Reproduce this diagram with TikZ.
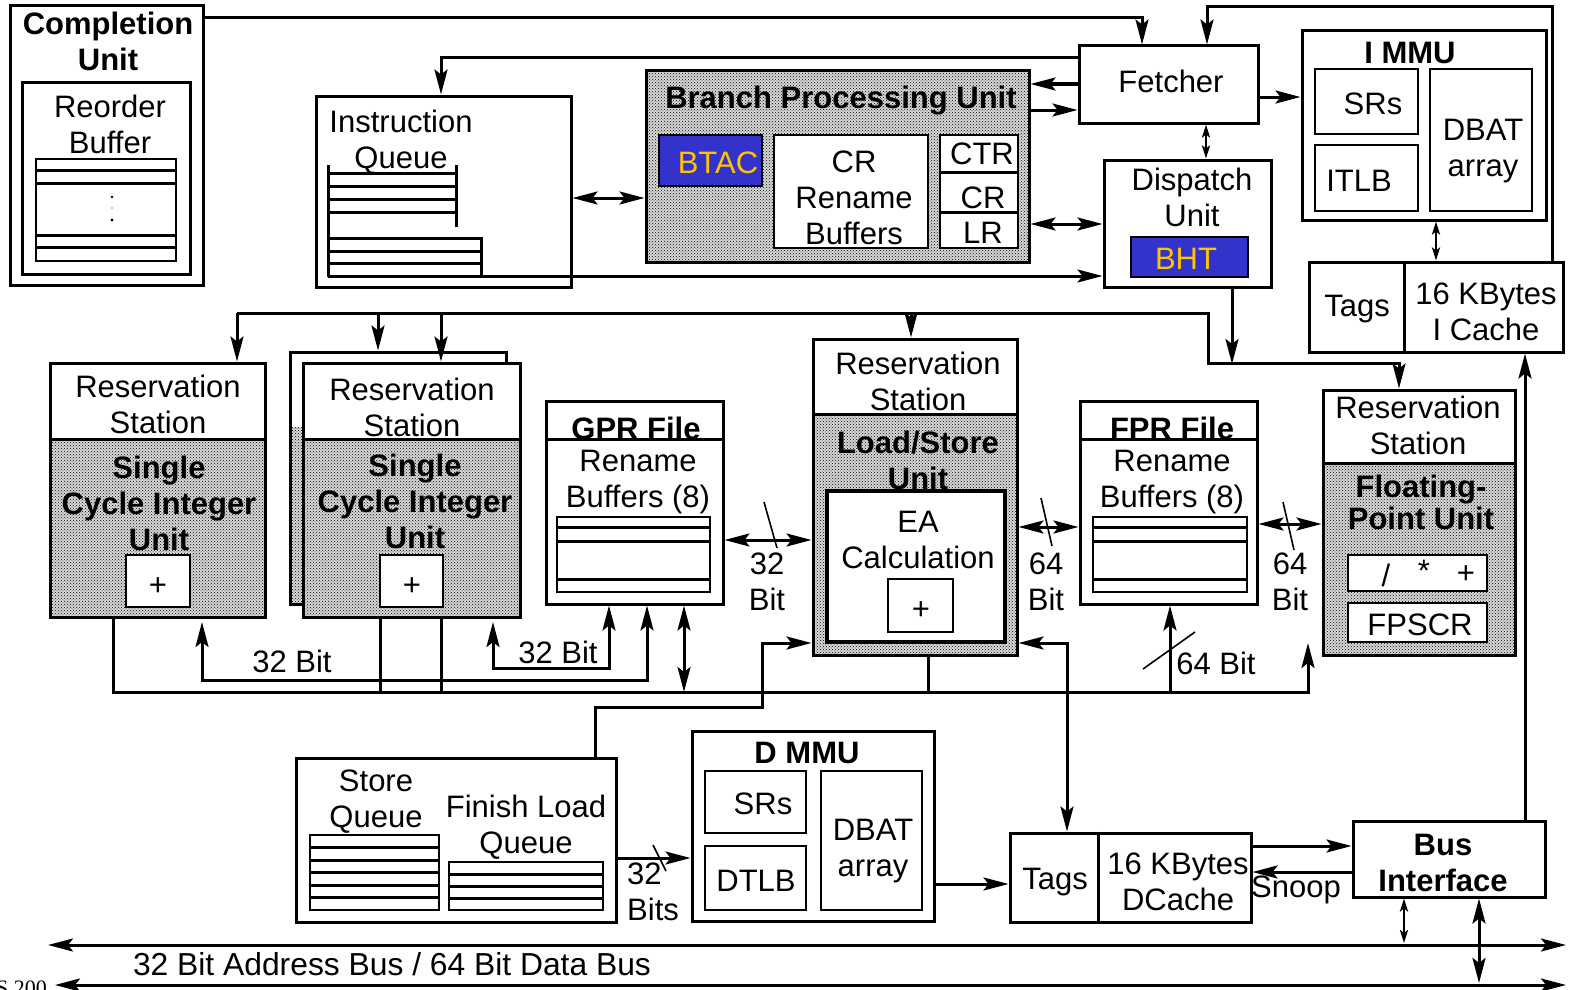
\documentclass[tikz,border=0pt]{standalone}
\usepackage{fontspec}
\setmainfont{Liberation Sans}
\newfontfamily\serx{Liberation Serif}
\usetikzlibrary{arrows.meta,patterns}
\newcommand\fs{\fontsize{31}{36}\selectfont}
\definecolor{bblue}{HTML}{3333CC}
\definecolor{byel}{HTML}{FFC400}
\tikzset{
 bx/.style={draw, line width=3pt, inner sep=0pt},
 sub/.style={draw, line width=2.6pt, inner sep=0pt},
 tx/.style={inner sep=0pt, align=center, font=\fs},
 bt/.style={inner sep=0pt, align=center, font=\fs\bfseries},
 ln/.style={line width=3pt},
 arr/.style={line width=3pt, -{Stealth[length=25pt,width=13pt,inset=5pt]}},
 darr/.style={line width=3pt, {Stealth[length=25pt,width=13pt,inset=5pt]}-{Stealth[length=25pt,width=13pt,inset=5pt]}},
 sdarr/.style={line width=2.5pt, {Stealth[length=13pt,width=8pt,inset=3pt]}-{Stealth[length=13pt,width=8pt,inset=3pt]}},
 slash/.style={line width=1.6pt},
 shdfill/.style={fill=black!15},
 shddots/.style={pattern=crosshatch dots, pattern color=black},
}
\newcommand\shadebox[2]{\path[shdfill] #1 rectangle #2; \path[shddots] #1 rectangle #2;}
\begin{document}
\begin{tikzpicture}[x=1pt,y=-1pt]
\useasboundingbox (0,0) rectangle (1569,990);
\fill[white] (0,0) rectangle (1569,990);

% ---------- Completion unit ----------
\node[bx, minimum width=193, minimum height=279] (comp) at (106.5,145.5) {};
\node[bt] (comptxt) at (108,41) {Completion\\Unit};
\node[bx, minimum width=168, minimum height=191] (rob) at (106,178.5) {};
\node[tx] (robtxt) at (110,124) {Reorder\\Buffer};
\node[sub, minimum width=140, minimum height=102] (robt) at (106,210) {};
\foreach \y in {170,183,235,247} \draw[ln] (robt.west |- 0,\y) -- (robt.east |- 0,\y);
\fill (112,197) circle (1.3); \fill (112,208) circle (0.7); \fill (112,220) circle (1.6);

% ---------- Instruction queue ----------
\node[bx, minimum width=255, minimum height=191] (iq) at (443.5,191.5) {};
\node[tx] (iqtxt) at (401,142) {Instruction\\Queue};
\draw[ln] (328,165) -- (328,276.5);
\draw[ln] (456,165) -- (456,227);
\foreach \y in {173,186,199,212} \draw[ln] (328,\y) -- (456,\y);
\draw[ln] (328,238) -- (481,238) -- (481,276);
\foreach \y in {251,263} \draw[ln] (328,\y) -- (481,\y);

% ---------- Branch processing unit ----------
\shadebox{(646,71)}{(1029,262)}
\node[bx, minimum width=383, minimum height=191] (bpu) at (837.5,166.5) {};
\node[bt] (bputxt) at (841,101) {Branch Processing Unit};
\node[sub, fill=bblue, minimum width=103, minimum height=51] (btac) at (710.5,160.5) {};
\node[tx, text=byel] (btactxt) at (718,163) {BTAC};
\node[sub, fill=white, minimum width=154, minimum height=113] (crrb) at (851,191.5) {};
\node[tx] (crrbtxt) at (854,198) {CR\\Rename\\Buffers};
\node[sub, fill=white, minimum width=78, minimum height=113] (stk) at (979,191.5) {};
\draw[ln] (stk.west |- 0,172) -- (stk.east |- 0,172);
\draw[ln] (stk.west |- 0,212) -- (stk.east |- 0,212);
\node[tx] (ctrtxt) at (982,154) {CTR};
\node[tx] (crtxt) at (983,198) {CR};
\node[tx] (lrtxt) at (983,233) {LR};

% ---------- Fetcher / Dispatch ----------
\node[bx, minimum width=179, minimum height=77] (fetch) at (1168.5,84.5) {};
\node[tx] (fetchtxt) at (1171,81) {Fetcher};
\node[bx, minimum width=167, minimum height=127] (disp) at (1187.5,223.5) {};
\node[tx] (disptxt) at (1192,197) {Dispatch\\Unit};
\node[sub, fill=bblue, minimum width=117, minimum height=40] (bht) at (1189.5,257) {};
\node[tx, text=byel] (bhttxt) at (1186,259) {BHT};

% ---------- I MMU / I cache ----------
\node[bx, minimum width=244, minimum height=189] (immu) at (1424,125.5) {};
\node[bt] (immutxt) at (1410,53) {I MMU};
\node[sub, minimum width=103, minimum height=65] (isrs) at (1366.5,101.5) {};
\node[tx] (isrstxt) at (1373,104) {SRs};
\node[sub, minimum width=103, minimum height=66] (itlb) at (1366.5,178) {};
\node[tx] (itlbtxt) at (1359,181) {ITLB};
\node[sub, minimum width=102, minimum height=142] (idbat) at (1481,140) {};
\node[tx] (idbattxt) at (1483,151) {DBAT\\array};
\node[bx, minimum width=254, minimum height=90] (icache) at (1436,307) {};
\draw[ln] (1404,0 |- icache.north) -- (1404,0 |- icache.south);
\node[tx] (itagstxt) at (1357,309) {Tags};
\node[tx] (icachetxt) at (1486,312) {16 KBytes\\I Cache};

% ---------- Single cycle integer unit 1 ----------
\shadebox{(50,439)}{(265,617)}
\node[bx, minimum width=215, minimum height=254] (sciu1) at (157.5,490) {};
\draw[ln] (sciu1.west |- 0,439) -- (sciu1.east |- 0,439);
\node[tx] (rs1txt) at (158,404.5) {Reservation\\Station};
\node[bt] (sciu1txt) at (159,503) {Single\\Cycle Integer\\Unit};
\node[sub, fill=white, minimum width=64, minimum height=52] (plus1) at (158,581) {};
\node[tx] (plus1txt) at (158,587) {+};

% ---------- Single cycle integer unit 2 ----------
\shadebox{(290,427)}{(506,604)}
\node[bx, minimum width=216, minimum height=252] (sciu2b) at (398,478) {};
\fill[white] (303,363) rectangle (520,617);
\shadebox{(303,439)}{(520,617)}
\node[bx, minimum width=217, minimum height=254] (sciu2) at (411.5,490) {};
\draw[ln] (sciu2.west |- 0,439) -- (sciu2.east |- 0,439);
\node[tx] (rs2txt) at (412,407) {Reservation\\Station};
\node[bt] (sciu2txt) at (415,501) {Single\\Cycle Integer\\Unit};
\node[sub, fill=white, minimum width=63, minimum height=52] (plus2) at (411.5,581) {};
\node[tx] (plus2txt) at (412,587) {+};

% ---------- GPR file ----------
\node[bx, minimum width=177, minimum height=203] (gpr) at (634.5,502.5) {};
\node[bt, anchor=base] (gprtitle) at (636,439) {GPR File};
\node[bx, fill=white, minimum width=177, minimum height=165] (gprlow) at (634.5,521.5) {};
\node[tx] (gprtxt) at (638,482) {Rename\\Buffers (8)};
\node[sub, minimum width=153, minimum height=75] (gprt) at (633.5,554.5) {};
\foreach \y in {527,541,579} \draw[ln] (gprt.west |- 0,\y) -- (gprt.east |- 0,\y);

% ---------- Load/store unit ----------
\shadebox{(813,414)}{(1017,655)}
\node[bx, minimum width=204, minimum height=316] (lsu) at (915,497) {};
\draw[ln] (lsu.west |- 0,414) -- (lsu.east |- 0,414);
\node[tx] (rs3txt) at (918,381) {Reservation\\Station};
\node[bt] (lsutxt) at (918,460) {Load/Store\\Unit};
\node[draw, line width=3.5pt, inner sep=0pt, fill=white, minimum width=178, minimum height=151] (ea) at (916,566.5) {};
\node[tx] (eatxt) at (918,540) {EA\\Calculation};
\node[sub, minimum width=65, minimum height=53] (plus3) at (920.5,605.5) {};
\node[tx] (plus3txt) at (921,611) {+};

% ---------- FPR file ----------
\node[bx, minimum width=177, minimum height=203] (fpr) at (1168.5,502.5) {};
\node[bt, anchor=base] (fprtitle) at (1172,439) {FPR File};
\node[bx, fill=white, minimum width=177, minimum height=165] (fprlow) at (1168.5,521.5) {};
\node[tx] (fprtxt) at (1172,482) {Rename\\Buffers (8)};
\node[sub, minimum width=154, minimum height=75] (fprt) at (1170,554.5) {};
\foreach \y in {527,541,579} \draw[ln] (fprt.west |- 0,\y) -- (fprt.east |- 0,\y);

% ---------- Floating point unit ----------
\shadebox{(1323,463)}{(1515,655)}
\node[bx, minimum width=192, minimum height=265] (fpu) at (1419,522.5) {};
\draw[ln] (fpu.west |- 0,463) -- (fpu.east |- 0,463);
\node[tx] (rs4txt) at (1418,425.5) {Reservation\\Station};
\node[bt, font=\fontsize{31}{32}\selectfont\bfseries] (fputxt) at (1421,502) {Floating-\\Point Unit};
\node[sub, fill=white, minimum width=139, minimum height=36] (ops) at (1417.5,573) {};
\node[tx] (divtxt) at (1386,575) {/};
\node[tx] (multxt) at (1424,571) {*};
\node[tx] (addtxt) at (1466,575) {+};
\node[sub, fill=white, minimum width=139, minimum height=39] (fpscr) at (1417.5,622.5) {};
\node[tx] (fpscrtxt) at (1420,625) {FPSCR};

% ---------- Store / finish load queue ----------
\node[bx, minimum width=320, minimum height=164] (sq) at (456,840) {};
\node[tx] (sqtxt) at (376,801.5) {Store\\Queue};
\node[tx] (flqtxt) at (526,827) {Finish Load\\Queue};
\node[sub, minimum width=129, minimum height=75] (sqt) at (374.5,872.5) {};
\foreach \y in {847.5,860,872.5,885,897.5} \draw[ln] (sqt.west |- 0,\y) -- (sqt.east |- 0,\y);
\node[sub, minimum width=154, minimum height=48] (flqt) at (526,886) {};
\foreach \y in {874,886,898} \draw[ln] (flqt.west |- 0,\y) -- (flqt.east |- 0,\y);

% ---------- D MMU ----------
\node[bx, minimum width=242, minimum height=190] (dmmu) at (813,826) {};
\node[bt] (dmmutxt) at (807,753) {D MMU};
\node[sub, minimum width=101, minimum height=62] (dsrs) at (755.5,802) {};
\node[tx] (dsrstxt) at (763,804) {SRs};
\node[sub, minimum width=101, minimum height=64] (dtlb) at (755.5,878) {};
\node[tx] (dtlbtxt) at (756,881) {DTLB};
\node[sub, minimum width=101, minimum height=139] (ddbat) at (871.5,840.5) {};
\node[tx] (ddbattxt) at (873,851) {DBAT\\array};

% ---------- D cache / bus interface ----------
\node[bx, minimum width=241, minimum height=89] (dcache) at (1130.5,877.5) {};
\draw[ln] (1098,0 |- dcache.north) -- (1098,0 |- dcache.south);
\node[tx] (dtagstxt) at (1055,882) {Tags};
\node[tx] (dcachetxt) at (1178,882) {16 KBytes\\DCache};
\node[bx, minimum width=192, minimum height=76] (biu) at (1449,859) {};
\node[bt] (biutxt) at (1443,863) {Bus\\Interface};

% ---------- connectors: top ----------
\draw[arr] (comp.east |- 0,18) -| (1142,0 |- fetch.north);
\draw[arr] (fetch.west |- 0,58) -| (441,0 |- iq.north);
\draw[arr] (fetch.west |- 0,84) -- (bpu.east |- 0,84);
\draw[arr] (bpu.east |- 0,110) -- (fetch.west |- 0,110);
\draw[arr] (1552,0 |- icache.north) |- (1207,7) -- (1207,0 |- fetch.north);
\draw[sdarr] (1206,0 |- fetch.south) -- (1206,0 |- disp.north);
\draw[arr] (fetch.east |- 0,97) -- (immu.west |- 0,97);
\draw[sdarr] (1436,0 |- immu.south) -- (1436,0 |- icache.north);
\draw[darr] (iq.east |- 0,198) -- (bpu.west |- 0,198);
\draw[darr] (bpu.east |- 0,224) -- (disp.west |- 0,224);
\draw[arr] (328,276) -- (disp.west |- 0,276);

% ---------- dispatch bus ----------
\draw[arr] (1232,0 |- disp.south) -- (1232,364);
\coordinate (dbus) at (237,313);
\draw[arr] (dbus) -- (1208,313) -- (1208,363) -- (1399,363) -- (1399,0 |- fpu.north);
\draw[arr] (dbus) -- (237,0 |- sciu1.north);
\draw[arr] (378,313) -- (378,0 |- sciu2b.north);
\draw[arr] (441,313) -- (441,0 |- sciu2.north);
\draw[arr] (911,313) -- (911,0 |- lsu.north);

% ---------- result bus ----------
\coordinate (fpin) at (1308,643);
\draw[arr] (113,0 |- sciu1.south) |- (1308,692) -- (fpin);
\draw[ln] (380,0 |- sciu2.south) -- (380,692);
\draw[ln] (441,0 |- sciu2.south) -- (441,692);
\draw[ln] (928,0 |- lsu.south) -- (928,692);
\draw[darr] (684,0 |- gpr.south) -- (684,692);
\draw[arr] (1170,692) -- (1170,0 |- fpr.south);
\draw[slash] (1143,669) -- (1195,632);
\node[tx] (l64c) at (1216,663) {64 Bit};

% ---------- GPR operand lines ----------
\draw[darr] (202,622) |- (647,680) -- (647,0 |- gpr.south);
\draw[darr] (493,622) |- (609,668) -- (609,0 |- gpr.south);
\node[tx] (l32a) at (292,661) {32 Bit};
\node[tx] (l32b) at (558,652) {32 Bit};

% ---------- register files <-> units ----------
\draw[darr] (gpr.east |- 0,540) -- (lsu.west |- 0,540);
\draw[slash] (764,502) -- (777,548);
\node[tx] (l32c) at (767,582) {32\\Bit};
\draw[darr] (lsu.east |- 0,527) -- (fpr.west |- 0,527);
\draw[slash] (1041,498) -- (1052,546);
\node[tx] (l64a) at (1046,582) {64\\Bit};
\draw[darr] (fpr.east |- 0,524) -- (fpu.west |- 0,524);
\draw[slash] (1283,502) -- (1294,550);
\node[tx] (l64b) at (1290,582) {64\\Bit};

% ---------- LSU <-> memory side ----------
\draw[arr] (595,0 |- sq.north) |- (762,707) |- (lsu.west |- 0,643);
\draw[darr] (1067,0 |- dcache.north) |- (lsu.east |- 0,643);
\draw[arr] (sq.east |- 0,858) -- (dmmu.west |- 0,858);
\draw[slash] (653,845) -- (666,871);
\node[tx, anchor=west, align=left] (l32d) at (627,892) {32\\Bits};
\draw[arr] (dmmu.east |- 0,884) -- (dcache.west |- 0,884);
\draw[arr] (dcache.east |- 0,846) -- (biu.west |- 0,846);
\draw[arr] (biu.west |- 0,872) -- (dcache.east |- 0,872);
\node[tx] (snoop) at (1296,890) {Snoop};
\draw[arr] (1525,0 |- biu.north) -- (1525,0 |- icache.south);

% ---------- system buses ----------
\coordinate (abl) at (48,945); \coordinate (abr) at (1566,945);
\coordinate (dbl) at (55,985); \coordinate (dbr) at (1566,985);
\node[inner sep=0pt, anchor=base west, font=\fontsize{22}{22}\serx] (frag) at (-4,995) {S 200};
\draw[darr] (abl) -- (abr);
\draw[darr] (dbl) -- (dbr);
\node[tx, font=\fontsize{31.8}{36}\selectfont] (bustxt) at (392,964) {32 Bit Address Bus / 64 Bit Data Bus};
\draw[sdarr] (1404,0 |- biu.south) -- (1404,943);
\draw[darr] (1479,0 |- biu.south) -- (1479,983);
\end{tikzpicture}
\end{document}
